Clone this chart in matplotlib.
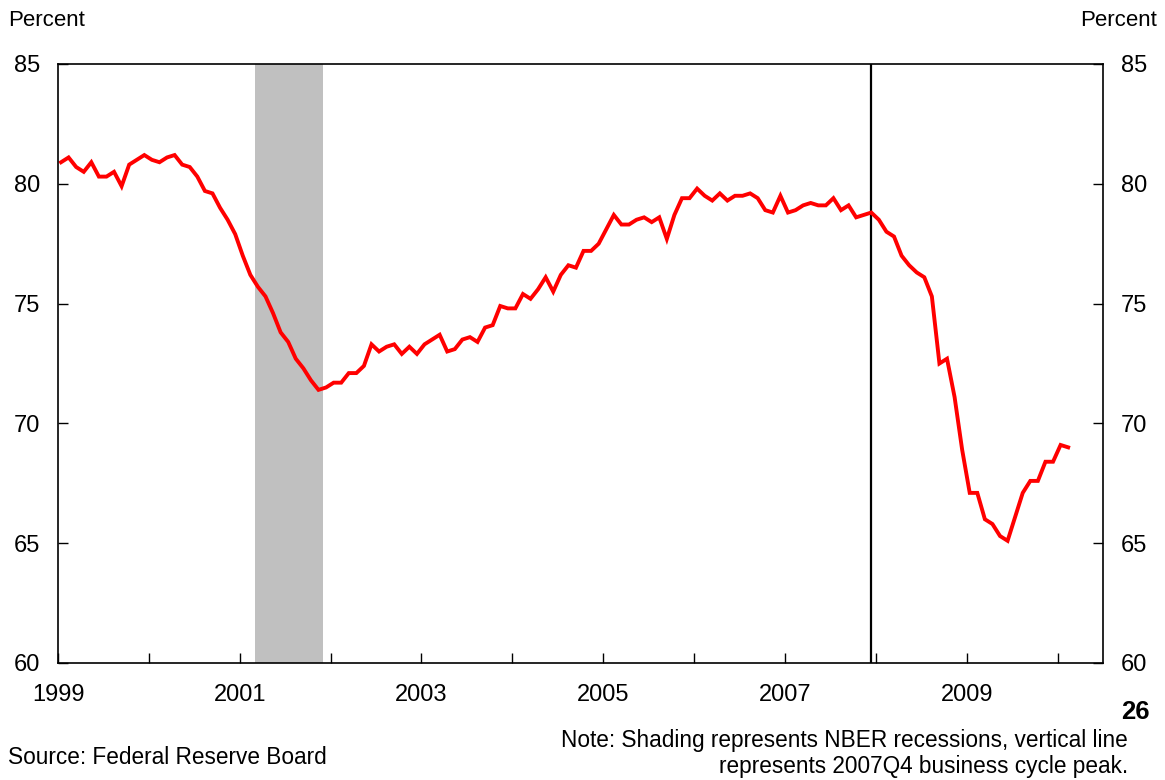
import numpy as np
import matplotlib
matplotlib.use("Agg")
import matplotlib.pyplot as plt

plt.rcParams['font.family'] = ['Liberation Sans', 'DejaVu Sans']

# monthly capacity utilization, Jan 1999 - Feb 2010 (percent)
start_year = 1999
utilization = [
    80.9, 81.1, 80.7, 80.5, 80.9, 80.3, 80.3, 80.5, 79.9, 80.8, 81.0, 81.2,   # 1999
    81.0, 80.9, 81.1, 81.2, 80.8, 80.7, 80.3, 79.7, 79.6, 79.0, 78.5, 77.9,   # 2000
    77.0, 76.2, 75.7, 75.3, 74.6, 73.8, 73.4, 72.7, 72.3, 71.8, 71.4, 71.5,   # 2001
    71.7, 71.7, 72.1, 72.1, 72.4, 73.3, 73.0, 73.2, 73.3, 72.9, 73.2, 72.9,   # 2002
    73.3, 73.5, 73.7, 73.0, 73.1, 73.5, 73.6, 73.4, 74.0, 74.1, 74.9, 74.8,   # 2003
    74.8, 75.4, 75.2, 75.6, 76.1, 75.5, 76.2, 76.6, 76.5, 77.2, 77.2, 77.5,   # 2004
    78.1, 78.7, 78.3, 78.3, 78.5, 78.6, 78.4, 78.6, 77.7, 78.7, 79.4, 79.4,   # 2005
    79.8, 79.5, 79.3, 79.6, 79.3, 79.5, 79.5, 79.6, 79.4, 78.9, 78.8, 79.5,   # 2006
    78.8, 78.9, 79.1, 79.2, 79.1, 79.1, 79.4, 78.9, 79.1, 78.6, 78.7, 78.8,   # 2007
    78.5, 78.0, 77.8, 77.0, 76.6, 76.3, 76.1, 75.3, 72.5, 72.7, 71.1, 68.9,   # 2008
    67.1, 67.1, 66.0, 65.8, 65.3, 65.1, 66.1, 67.1, 67.6, 67.6, 68.4, 68.4,   # 2009
    69.1, 69.0,                                                               # 2010
]
recessions = [(2001 + 2 / 12, 2001 + 11 / 12)]
cycle_peak = 2007.95

year_ticks = list(range(1999, 2011))
year_labels = [str(y) if y % 2 == 1 else "" for y in year_ticks]
pct_ticks = [60, 65, 70, 75, 80, 85]

months = start_year + (np.arange(len(utilization)) + 0.4) / 12.0

fig = plt.figure(figsize=(11.65, 7.8), dpi=100)
ax = fig.add_axes([58 / 1165, 117 / 780, 1045 / 1165, 599 / 780])

for lo, hi in recessions:
    ax.axvspan(lo, hi, color="#c0c0c0", lw=0, zorder=1)
ax.axvline(cycle_peak, color="black", lw=1.6, zorder=2)
ax.plot(months, utilization, color="red", lw=2.8, zorder=3, solid_joinstyle="miter")

ax.set_xlim(1999, 2010.5)
ax.set_ylim(60, 85)
ax.set_xticks(year_ticks)
ax.set_xticklabels(year_labels)
ax.set_yticks(pct_ticks)

ax.tick_params(axis="x", direction="in", length=7, width=1, pad=15, labelsize=17)
ax.tick_params(axis="y", direction="in", length=7, width=1, pad=13, labelsize=17,
               right=True, labelright=True)
for s in ax.spines.values():
    s.set_linewidth(1.2)
    s.set_zorder(4)

fig.text(8 / 1165, 1 - 20 / 780, "Percent", fontsize=16, ha="left", va="center")
fig.text(1157 / 1165, 1 - 20 / 780, "Percent", fontsize=16, ha="right", va="center")
fig.text(1150 / 1165, 1 - 712 / 780, "26", fontsize=18.5, fontweight="bold",
         ha="right", va="center")
fig.text(8 / 1165, 1 - 757 / 780, "Source: Federal Reserve Board", fontsize=16.3,
         ha="left", va="center")
fig.text(1128 / 1165, 1 - 741 / 780,
         "Note: Shading represents NBER recessions, vertical line", fontsize=16.3,
         ha="right", va="center")
fig.text(1128 / 1165, 1 - 766 / 780,
         "represents 2007Q4 business cycle peak.", fontsize=16.3,
         ha="right", va="center")

fig.savefig("out.png", dpi=100)
